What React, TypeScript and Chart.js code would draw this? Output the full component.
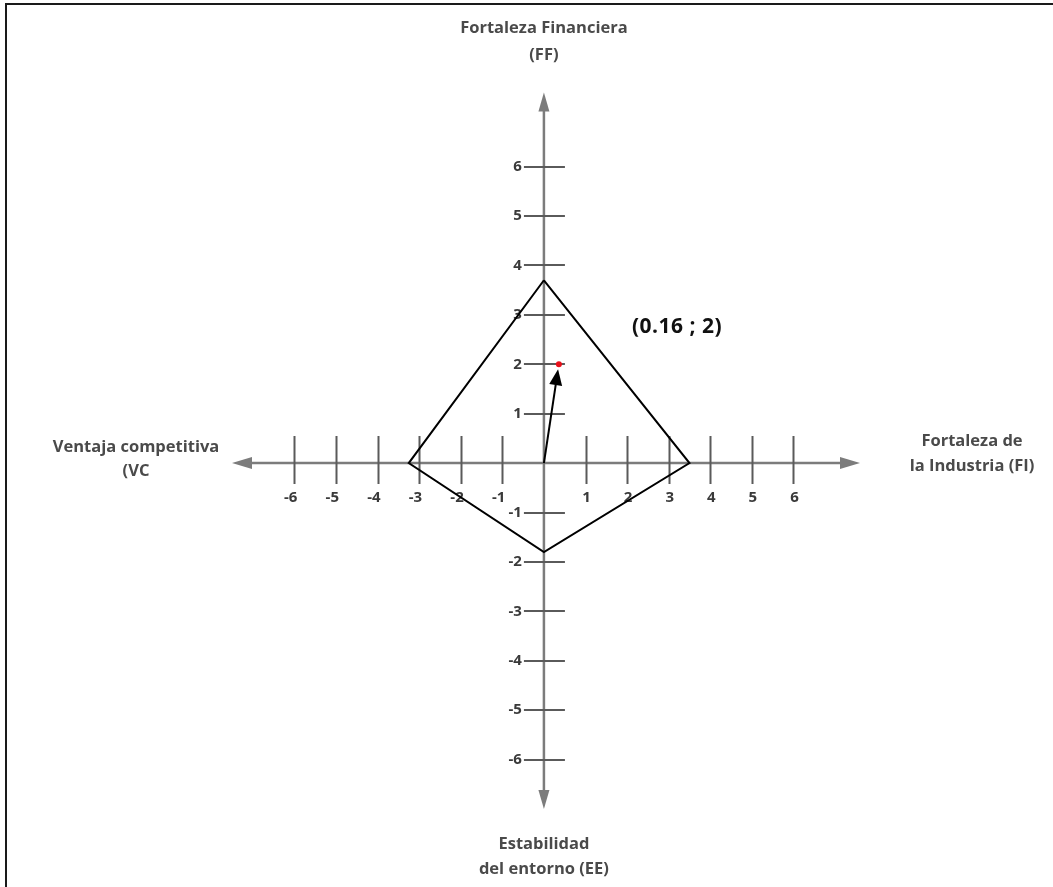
import React, { useEffect, useRef } from "react";
import { Chart, registerables } from "chart.js";

Chart.register(...registerables);

// ---- data ----
const xTickValues = [-6, -5, -4, -3, -2, -1, 1, 2, 3, 4, 5, 6];
const yTickValues = [6, 5, 4, 3, 2, 1, -1, -2, -3, -4, -5, -6];
const xTickLabels = ["-6", "-5", "-4", "-3", "-2", "-1", "1", "2", "3", "4", "5", "6"];
const yTickLabels = ["6", "5", "4", "3", "2", "1", "-1", "-2", "-3", "-4", "-5", "-6"];

const polygonX = [0, 3.5, 0, -3.25, 0];
const polygonY = [3.7, 0, -1.8, 0, 3.7];

const pointX = [0.36];
const pointY = [2];

const vectorStart = [0, 0];
const vectorEnd = [0.34, 1.9];

const pointLabel = "(0.16 ; 2)";
const pointLabelAt = [3.2, 2.75];

const titleTop = ["Fortaleza Financiera", "(FF)"];
const titleLeft = ["Ventaja competitiva", "(VC"];
const titleRight = ["Fortaleza de", "la Industria (FI)"];
const titleBottom = ["Estabilidad", "del entorno (EE)"];

const xRange = [-7.5, 7.6];
const yRange = [-7, 7.5];

const AXIS_GRAY = "#7c7c7c";
const TICK_GRAY = "#5a5a5a";
const TEXT_GRAY = "#4a4a4a";

function arrowHead(ctx: CanvasRenderingContext2D, tx: number, ty: number, fx: number, fy: number, len: number, half: number, color: string) {
  const ang = Math.atan2(ty - fy, tx - fx);
  const bx = tx - Math.cos(ang) * len;
  const by = ty - Math.sin(ang) * len;
  const px = -Math.sin(ang) * half;
  const py = Math.cos(ang) * half;
  ctx.beginPath();
  ctx.moveTo(tx, ty);
  ctx.lineTo(bx + px, by + py);
  ctx.lineTo(bx - px, by - py);
  ctx.closePath();
  ctx.fillStyle = color;
  ctx.fill();
}

const axesPlugin = {
  id: "crossAxes",
  beforeDatasetsDraw(chart: any) {
    const ctx: CanvasRenderingContext2D = chart.ctx;
    const xs = chart.scales.x;
    const ys = chart.scales.y;
    const x0 = xs.getPixelForValue(0);
    const y0 = ys.getPixelForValue(0);
    const left = xs.getPixelForValue(xRange[0]);
    const right = xs.getPixelForValue(xRange[1]);
    const top = ys.getPixelForValue(yRange[1]);
    const bottom = ys.getPixelForValue(yRange[0]);
    ctx.save();
    ctx.fillStyle = "#ffffff";
    ctx.fillRect(0, 0, chart.width, chart.height);

    // axis lines
    ctx.strokeStyle = AXIS_GRAY;
    ctx.lineWidth = 2.5;
    ctx.beginPath();
    ctx.moveTo(left + 12, y0);
    ctx.lineTo(right - 12, y0);
    ctx.moveTo(x0, top + 12);
    ctx.lineTo(x0, bottom - 12);
    ctx.stroke();
    arrowHead(ctx, left, y0, x0, y0, 20, 6, AXIS_GRAY);
    arrowHead(ctx, right, y0, x0, y0, 20, 6, AXIS_GRAY);
    arrowHead(ctx, x0, top, x0, y0, 19, 5.5, AXIS_GRAY);
    arrowHead(ctx, x0, bottom, x0, y0, 19, 5.5, AXIS_GRAY);

    // ticks
    ctx.strokeStyle = TICK_GRAY;
    ctx.lineWidth = 2;
    ctx.beginPath();
    xTickValues.forEach((v) => {
      const px = Math.round(xs.getPixelForValue(v)) + 0.5;
      ctx.moveTo(px, y0 - 27);
      ctx.lineTo(px, y0 + 21);
    });
    yTickValues.forEach((v) => {
      const py = Math.round(ys.getPixelForValue(v));
      ctx.moveTo(x0 - 20, py);
      ctx.lineTo(x0 + 21, py);
    });
    ctx.stroke();

    // tick labels
    ctx.fillStyle = "#3a3a3a";
    ctx.font = "bold 15px 'Open Sans', sans-serif";
    ctx.textBaseline = "middle";
    xTickValues.forEach((v, i) => {
      const px = xs.getPixelForValue(v);
      if (v < 0) {
        ctx.textAlign = "right";
        ctx.fillText(xTickLabels[i], px + 3, y0 + 35);
      } else {
        ctx.textAlign = "center";
        ctx.fillText(xTickLabels[i], px + 1, y0 + 35);
      }
    });
    ctx.textAlign = "right";
    yTickValues.forEach((v, i) => {
      const py = ys.getPixelForValue(v);
      ctx.fillText(yTickLabels[i], x0 - 22, py);
    });

    // axis titles
    ctx.fillStyle = TEXT_GRAY;
    ctx.font = "bold 16.5px 'Open Sans', sans-serif";
    ctx.textAlign = "center";
    ctx.fillText(titleTop[0], x0, top - 64);
    ctx.fillText(titleTop[1], x0, top - 37);
    ctx.fillText(titleBottom[0], x0, bottom + 35);
    ctx.fillText(titleBottom[1], x0, bottom + 60);
    ctx.fillText(titleLeft[0], left - 96, y0 - 16);
    ctx.fillText(titleLeft[1], left - 96, y0 + 8);
    ctx.fillText(titleRight[0], right + 112, y0 - 22);
    ctx.fillText(titleRight[1], right + 112, y0 + 3);
    ctx.restore();
  },
  afterDatasetsDraw(chart: any) {
    const ctx: CanvasRenderingContext2D = chart.ctx;
    const xs = chart.scales.x;
    const ys = chart.scales.y;
    ctx.save();
    // vector arrow
    const sx = xs.getPixelForValue(vectorStart[0]);
    const sy = ys.getPixelForValue(vectorStart[1]);
    const ex = xs.getPixelForValue(vectorEnd[0]);
    const ey = ys.getPixelForValue(vectorEnd[1]);
    ctx.strokeStyle = "#000";
    ctx.lineWidth = 2;
    ctx.beginPath();
    ctx.moveTo(sx, sy);
    ctx.lineTo(ex - (ex - sx) * 0.1, ey - (ey - sy) * 0.1);
    ctx.stroke();
    arrowHead(ctx, ex, ey, sx, sy, 16, 6.5, "#000");

    // point label
    ctx.fillStyle = "#111";
    ctx.font = "bold 21px 'Open Sans', sans-serif";
    (ctx as any).letterSpacing = "0.5px";
    ctx.textAlign = "center";
    ctx.textBaseline = "middle";
    ctx.fillText(pointLabel, xs.getPixelForValue(pointLabelAt[0]), ys.getPixelForValue(pointLabelAt[1]));
    (ctx as any).letterSpacing = "0px";

    // frame
    ctx.strokeStyle = "#1a1a1a";
    ctx.lineWidth = 2;
    ctx.beginPath();
    ctx.moveTo(6, chart.height);
    ctx.lineTo(6, 4);
    ctx.lineTo(chart.width, 4);
    ctx.stroke();
    ctx.restore();
  },
};

export default function App() {
  const canvasRef = useRef<HTMLCanvasElement | null>(null);

  useEffect(() => {
    if (!canvasRef.current) return;
    const chart = new Chart(canvasRef.current, {
      type: "scatter",
      data: {
        datasets: [
          {
            label: "Polígono",
            data: polygonX.map((x, i) => ({ x, y: polygonY[i] })),
            showLine: true,
            borderColor: "#000000",
            borderWidth: 2,
            pointRadius: 0,
            fill: false,
            tension: 0,
          },
          {
            label: "Posición",
            data: pointX.map((x, i) => ({ x, y: pointY[i] })),
            pointRadius: 3,
            pointBackgroundColor: "#e8101a",
            pointBorderColor: "#e8101a",
            borderWidth: 0,
          },
        ],
      },
      options: {
        animation: false,
        responsive: true,
        maintainAspectRatio: false,
        devicePixelRatio: 1,
        layout: { padding: { left: 232, right: 193, top: 92.5, bottom: 78 } },
        plugins: {
          legend: { display: false },
          title: { display: false },
          tooltip: { enabled: false },
        },
        scales: {
          x: { type: "linear", min: xRange[0], max: xRange[1], display: false },
          y: { type: "linear", min: yRange[0], max: yRange[1], display: false },
        },
      },
      plugins: [axesPlugin],
    });
    return () => chart.destroy();
  }, []);

  return (
    <div style={{ position: "fixed", left: 0, top: 0, width: 1053, height: 887, background: "#fff" }}>
      <canvas ref={canvasRef} />
    </div>
  );
}
